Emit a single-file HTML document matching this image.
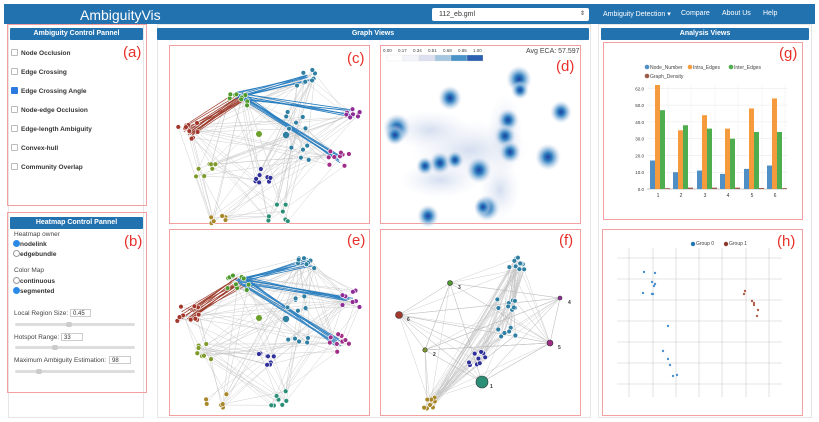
<!DOCTYPE html><html><head><meta charset="utf-8"><style>
body{margin:0;width:819px;height:422px;background:#fff;font-family:"Liberation Sans",sans-serif;position:relative;overflow:hidden}
.a{position:absolute;box-sizing:border-box}
.hd{background:#2372b0;color:#fff;font-size:7px;font-weight:bold;text-align:center;line-height:12px;border-radius:1px}
.red{border:1px solid #f4a0a0}
.gp{border:1px solid #e6e6e6}
.lb{position:absolute;color:#e8302a;font-size:15px}
.it{position:absolute;font-size:6.5px;font-weight:bold;color:#333;left:11px}
.cb{display:inline-block;width:5px;height:5px;border:1px solid #bbb;border-radius:1px;margin-right:3px;vertical-align:-1px}
.sm{position:absolute;font-size:6.5px;color:#444}
.sl{position:absolute;height:3px;background:#ddd;border-radius:2px;left:15px;width:120px}
.kn{position:absolute;width:6px;height:5px;background:#ccc;border-radius:2px;top:-1px}
.in{position:absolute;height:8px;border:1px solid #ccc;font-size:6px;line-height:8px;padding-left:2px;box-sizing:border-box;color:#333}
.rd{display:inline-block;width:5px;height:5px;border-radius:50%;border:1px solid #999;vertical-align:-1px}
</style></head><body>
<div class="a" style="left:4px;top:4px;width:811px;height:20px;background:#2372b0"></div>
<div class="a" style="left:80px;top:7px;color:#fff;font-size:14px">AmbiguityVis</div>
<div class="a" style="left:432px;top:8px;width:157px;height:13px;background:#fff;border-radius:2px;font-size:7px;line-height:13px;padding-left:7px;color:#333">112_eb.gml<span style="position:absolute;right:4px;font-size:6px">⇕</span></div>
<div class="a" style="left:603px;top:10px;color:#fff;font-size:7px">Ambiguity Detection ▾</div>
<div class="a" style="left:681px;top:10px;color:#fff;font-size:7px">Compare</div>
<div class="a" style="left:722px;top:10px;color:#fff;font-size:7px">About Us</div>
<div class="a" style="left:763px;top:10px;color:#fff;font-size:7px">Help</div>

<div class="a gp" style="left:8px;top:24px;width:136px;height:394px"></div>
<div class="a red" style="left:7px;top:24px;width:140px;height:182px"></div>
<div class="a hd" style="left:10px;top:28px;width:133px">Ambiguity Control Pannel</div>
<div class="lb" style="left:123px;top:44px">(a)</div>
<div class="it" style="top:49px"><span class="cb"></span>Node Occlusion</div>
<div class="it" style="top:68px"><span class="cb"></span>Edge Crossing</div>
<div class="it" style="top:87px"><span class="cb" style="background:#2a7ae0;border-color:#2a7ae0"></span>Edge Crossing Angle</div>
<div class="it" style="top:106px"><span class="cb"></span>Node-edge Occlusion</div>
<div class="it" style="top:125px"><span class="cb"></span>Edge-length Ambiguity</div>
<div class="it" style="top:144px"><span class="cb"></span>Convex-hull</div>
<div class="it" style="top:163px"><span class="cb"></span>Community Overlap</div>

<div class="a red" style="left:7px;top:212px;width:140px;height:181px"></div>
<div class="a hd" style="left:10px;top:217px;width:133px">Heatmap Control Pannel</div>
<div class="lb" style="left:124px;top:233px">(b)</div>
<div class="sm" style="left:14px;top:231px">Heatmap owner</div>
<div class="it" style="left:13px;top:240px;font-size:6.5px"><span class="rd" style="background:#2a8ae6;border-color:#2a8ae6"></span>nodelink</div>
<div class="it" style="left:13px;top:250px"><span class="rd"></span>edgebundle</div>
<div class="sm" style="left:14px;top:267px">Color Map</div>
<div class="it" style="left:13px;top:277px"><span class="rd"></span>continuous</div>
<div class="it" style="left:13px;top:287px"><span class="rd" style="background:#2a8ae6;border-color:#2a8ae6"></span>segmented</div>
<div class="sm" style="left:14px;top:310px">Local Region Size:</div><div class="in" style="left:70px;top:309px;width:21px">0.45</div>
<div class="sl" style="top:323px"><div class="kn" style="left:51px"></div></div>
<div class="sm" style="left:14px;top:334px">Hotspot Range:</div><div class="in" style="left:61px;top:333px;width:22px">33</div>
<div class="sl" style="top:346px"><div class="kn" style="left:37px"></div></div>
<div class="sm" style="left:14px;top:357px">Maximum Ambiguity Estimation:</div><div class="in" style="left:109px;top:356px;width:22px">98</div>
<div class="sl" style="top:370px"><div class="kn" style="left:21px"></div></div>

<div class="a gp" style="left:157px;top:24px;width:434px;height:394px"></div>
<div class="a hd" style="left:157px;top:28px;width:432px">Graph Views</div>
<div class="a red" style="left:169px;top:45px;width:201px;height:179px"></div>
<div class="a red" style="left:380px;top:45px;width:201px;height:179px"></div>
<div class="a red" style="left:169px;top:229px;width:201px;height:187px"></div>
<div class="a red" style="left:380px;top:229px;width:201px;height:187px"></div>
<svg class="a" style="left:0;top:0" width="819" height="422" id="sv"></svg>
<div class="lb" style="left:347px;top:50px">(c)</div>
<div class="lb" style="left:556px;top:58px">(d)</div>
<div class="lb" style="left:347px;top:232px">(e)</div>
<div class="lb" style="left:559px;top:232px">(f)</div>
<div class="sm" style="left:526px;top:48px;font-size:7px">Avg ECA: 57.597</div>
<div class="sm" style="left:383px;top:48px;font-size:4.5px;word-spacing:5px">0.00 0.17 0.34 0.51 0.68 0.85 1.00</div>
<div class="a gp" style="left:598px;top:24px;width:214px;height:394px"></div>
<div class="a hd" style="left:601px;top:28px;width:208px">Analysis Views</div>
<div class="a red" style="left:603px;top:42px;width:200px;height:178px"></div>
<div class="a red" style="left:602px;top:229px;width:201px;height:187px"></div>
<div class="lb" style="left:779px;top:45px">(g)</div>
<div class="lb" style="left:777px;top:233px">(h)</div>
<div class="sm" style="left:650px;top:65px;font-size:5px">Node_Number</div>
<div class="sm" style="left:693px;top:65px;font-size:5px">Intra_Edges</div>
<div class="sm" style="left:734px;top:65px;font-size:5px">Inter_Edges</div>
<div class="sm" style="left:650px;top:74px;font-size:5px">Graph_Density</div>
<div class="sm" style="left:696px;top:241px;font-size:5px">Group 0</div>
<div class="sm" style="left:729px;top:241px;font-size:5px">Group 1</div>
<script>
var s=document.getElementById('sv'),h='';
function c(x,y,r,f,o){h+='<circle cx="'+x+'" cy="'+y+'" r="'+r+'" fill="'+f+'"'+(o?' stroke="'+o+'" stroke-width="0.6"':'')+'/>';}
function l(a,b,d,e,col,w){h+='<line x1="'+a+'" y1="'+b+'" x2="'+d+'" y2="'+e+'" stroke="'+col+'" stroke-width="'+(w||0.4)+'"/>';}
var seed=7;function R(){seed=(seed*16807)%2147483647;return seed/2147483647;}
function graph(dy){
 var C=[[308,262,'#2f7fa3',9],[238,282,'#4e9a2c',10],[188,315,'#a2382c',10],[350,298,'#8d2c96',8],[338,343,'#a02d87',9],[297,305,'#2f7fa3',7],[207,353,'#7d9a2a',7],[266,358,'#2f2f9a',8],[277,397,'#2b8f78',7],[217,403,'#a8872b',6],[298,335,'#2f7fa3',5]];
 var N=[];
 C.forEach(function(k){for(var i=0;i<k[3];i++){N.push([k[0]+(R()-.5)*22,k[1]-dy+(R()-.5)*18,k[2]]);}});
 for(var i=0;i<140;i++){var a=N[Math.floor(R()*N.length)],b=N[Math.floor(R()*N.length)];l(a[0],a[1],b[0],b[1],'#c4c4c4',0.4);}
 for(i=0;i<14;i++){l(238+(R()-.5)*14,282-dy+(R()-.5)*10,188+(R()-.5)*14,315-dy+(R()-.5)*10,'#9c3a2a',0.7);}
 [[308,262],[350,298],[338,343]].forEach(function(t){for(var j=0;j<7;j++)l(240+(R()-.5)*12,280-dy+(R()-.5)*8,t[0]+(R()-.5)*10,t[1]-dy+(R()-.5)*8,'#2a7fc0',0.8);});
 N.forEach(function(n){c(n[0],n[1],2.4,n[2],'#fff');});
 c(259,318-dy,3,'#6aa02a');c(286,319-dy,3.2,'#2f7fa3');
}
h+='<defs><radialGradient id="hg"><stop offset="0" stop-color="#1c3f9e"/><stop offset=".3" stop-color="#2f7fc0"/><stop offset=".6" stop-color="#8fb9dd" stop-opacity=".8"/><stop offset="1" stop-color="#dde4f2" stop-opacity="0"/></radialGradient><radialGradient id="hl"><stop offset="0" stop-color="#c9d6ec" stop-opacity=".8"/><stop offset="1" stop-color="#e8ebf5" stop-opacity="0"/></radialGradient></defs>';
graph(184);graph(0);
[[470,150,60,30],[505,135,18,40],[440,180,40,18],[500,190,20,30],[430,130,40,20]].forEach(function(b){h+='<ellipse cx="'+b[0]+'" cy="'+b[1]+'" rx="'+b[2]+'" ry="'+b[3]+'" fill="url(#hl)"/>';});
[[519,79,13],[450,98,12],[397,128,14],[561,112,11],[508,120,11],[505,136,11],[510,152,11],[548,157,13],[479,170,13],[440,163,11],[425,166,9],[487,208,13],[428,216,11],[455,160,9],[483,207,9],[520,90,9],[395,135,10]].forEach(function(b){h+='<ellipse cx="'+b[0]+'" cy="'+b[1]+'" rx="'+b[2]+'" ry="'+(b[2]*1.05)+'" fill="url(#hg)"/>';});
var cs=['#fff','#f2f4f9','#dcdff0','#a6c6e0','#4a93c8','#2c5fb0'];for(var i=0;i<6;i++)h+='<rect x="'+(387+i*16)+'" y="55" width="16" height="6" fill="'+cs[i]+'" stroke="#ddd" stroke-width=".3"/>';
var F=[[518,262,'#2f7fa3',10],[507,305,'#2f7fa3',9],[508,335,'#2f7fa3',6],[477,358,'#2f2f9a',10],[427,403,'#a8872b',9]],FN=[];
F.forEach(function(k){for(var i=0;i<k[3];i++)FN.push([k[0]+(R()-.5)*20,k[1]+(R()-.5)*15,k[2]]);});
var S=[[450,283,'#4e9a2c',2.5,'3'],[560,298,'#8d2c96',2,'4'],[399,315,'#a2382c',3.5,'6'],[425,350,'#7d9a2a',2.2,'2'],[550,343,'#a02d87',3,'5'],[482,382,'#2b8f78',6,'1']];
var all=FN.concat(S);
for(i=0;i<150;i++){var a=all[Math.floor(R()*all.length)],b=all[Math.floor(R()*all.length)];l(a[0],a[1],b[0],b[1],'#c4c4c4',0.4);}
S.forEach(function(a){S.forEach(function(b){l(a[0],a[1],b[0],b[1],'#bbb',0.4);});});
FN.forEach(function(n){c(n[0],n[1],2.4,n[2],'#fff');});
S.forEach(function(n){c(n[0],n[1],n[3],n[2],'#333');h+='<text x="'+(n[0]+8)+'" y="'+(n[1]+6)+'" font-size="5" font-weight="bold" fill="#333" font-family="Liberation Sans">'+n[4]+'</text>';});
var y0=189,sc=104/62,X=[658,681,705,728,752,775],D=[[17,62,47,.5],[10,35,38,.8],[11,44,36,.8],[9,36,30,.8],[12,48,34,.6],[14,54,34,.5]],col=['#4f8fc6','#f59a3d','#4fad4f','#9c5a4a'];
for(i=0;i<=6;i++){var yy=y0-i*10*sc;l(647,yy,787,yy,'#e6e6e6',0.5);h+='<text x="644" y="'+(yy+2)+'" font-size="4.5" text-anchor="end" fill="#333" font-family="Liberation Sans">'+(i==6?'62.0':(i*10)+'.0')+'</text>';}
X.forEach(function(x){l(x+10,85,x+10,189,'#eee',0.5);});
l(647,189,787,189,'#999',0.5);
X.forEach(function(x,g){for(var k=0;k<4;k++){var v=D[g][k]*sc;h+='<rect x="'+(x-8+k*5)+'" y="'+(y0-v)+'" width="5" height="'+v+'" fill="'+col[k]+'"/>';}h+='<text x="'+x+'" y="197" font-size="5" text-anchor="middle" fill="#333" font-family="Liberation Sans">'+(g+1)+'</text>';});
c(647,67,2.3,col[0]);c(690,67,2.3,col[1]);c(731,67,2.3,col[2]);c(647,76,2.3,col[3]);
[629,653,676,699,722,746,769].forEach(function(x){l(x,248,x,397,'#ccc',0.6);});
[258,279,300,321,342,363,384].forEach(function(y){l(617,y,782,y,'#ccc',0.6);});
c(693,244,2.2,'#1f77b4');c(726,244,2.2,'#8c3a2c');
[[644,272],[655,273],[652,282],[655,284],[654,286],[643,293],[652,294],[653,294],[668,326],[663,351],[668,359],[670,365],[673,376],[677,375]].forEach(function(p){c(p[0],p[1],1.2,'#4a90d0');});
[[745,291],[744,294],[752,301],[754,303],[754,305],[758,310],[757,316]].forEach(function(p){c(p[0],p[1],1.2,'#b0604a');});
s.innerHTML=h;
</script>
</body></html>
